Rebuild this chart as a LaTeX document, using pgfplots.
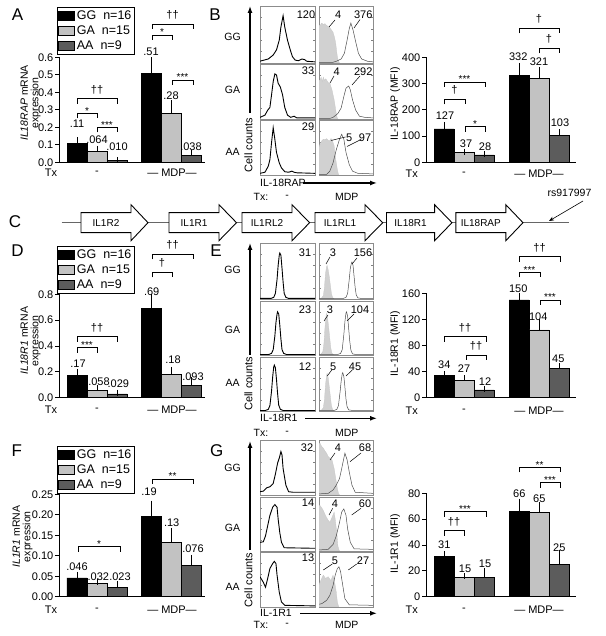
\documentclass[border=0pt]{standalone}
\usepackage{pgfplots}
\pgfplotsset{compat=1.18}
\usepackage{fontspec}
\setmainfont{Liberation Sans}
\usetikzlibrary{arrows.meta}
\newcommand{\fz}[1]{\fontsize{#1}{#1}\selectfont}
\definecolor{cGA}{gray}{0.76}
\definecolor{cAA}{gray}{0.36}
\definecolor{hfill}{gray}{0.82}

\pgfplotsset{
  bars/.style={scale only axis, anchor=south west, clip=false,
    axis x line*=bottom, axis y line*=left,
    xmin=0, ymin=0, xtick=\empty,
    ybar, bar width=20, bar shift=0pt,
    tick align=outside, major tick length=4pt,
    axis line style={line width=0.8pt},
    tick style={black, line width=0.8pt},
    /pgf/number format/assume math mode=true,
    yticklabel style={font=\fz{11}, inner sep=1.5pt},
    ylabel style={align=center, anchor=center, font=\fontsize{10.5}{10.5}\selectfont},
    legend cell align=left,
    legend image code/.code={\draw[##1, line width=0.6pt] (0pt,-4.5pt) rectangle (16pt,4.5pt);},
    legend style={anchor=north west, draw=black, line width=0.7pt, font=\fz{12.5}, inner sep=1pt, row sep=1pt},
  },
  eb/.style={error bars/y dir=plus, error bars/y explicit, error bars/error mark=-,
    error bars/error bar style={black, line width=0.7pt},
    error bars/error mark options={black, line width=0.7pt, mark size=3pt}},
  bGG/.style={fill=black, draw=black, line width=0.6pt, eb},
  bGA/.style={fill=cGA, draw=black, line width=0.6pt, eb},
  bAA/.style={fill=cAA, draw=black, line width=0.6pt, eb},
  hist/.style={scale only axis, anchor=south west, xmin=0, xmax=100, ymin=0, ymax=100,
    xtick=\empty, ytick={20,40,60,80}, yticklabels={}, tick align=inside, major tick length=2pt,
    tick style={black!50, line width=0.4pt}, axis line style={black!45, line width=0.6pt},
    no markers},
  op/.style={black, line width=0.9pt},
  om/.style={black!70, line width=0.5pt},
  gf/.style={fill=hfill, draw=black!22, line width=0.3pt},
}

% annotation helpers (pixel coordinates, y downward)
\newcommand{\brs}[4]{\draw[line width=0.7pt] (#1,#3+5) -- (#1,#3) -- (#2,#3) -- (#2,#3+5);
  \node[font=\fz{10}, anchor=base, inner sep=0pt] at ({(#1+#2)/2},#3+1) {#4};}
\newcommand{\brd}[4]{\draw[line width=0.7pt] (#1,#3+5) -- (#1,#3) -- (#2,#3) -- (#2,#3+5);
  \node[font=\fz{11}, anchor=base, inner sep=0pt] at ({(#1+#2)/2},#3-5.5) {#4};}
\newcommand{\vl}[3]{\node[font=\fz{11}] at (#1,#2) {#3};}
\newcommand{\gene}[4]{\draw[line width=0.9pt, fill=white] (#1,212.7) -- (#2,212.7) -- (#2,204.7) -- (#3,222.7) -- (#2,240.7) -- (#2,232.7) -- (#1,232.7) -- cycle;
  \node[font=\fz{10}] at ({(#1+#2)/2},222.7) {#4};}

\begin{document}
\begin{tikzpicture}
\path[use as bounding box] (0,0) rectangle (605pt,636pt);

%% ---------- A ----------
\begin{axis}[bars, at={(59pt,473.7pt)}, width=146pt, xmax=146, height=105pt, ymax=0.6,
  ytick={0,0.1,0.2,0.3,0.4,0.5,0.6},
  yticklabel style={/pgf/number format/.cd, fixed, fixed zerofill, precision=1},
  ylabel={\textit{IL18RAP} mRNA\\expression}, ylabel style={at={(axis description cs:-0.195,0.565)}},
  legend style={at={(axis description cs:-0.014,1.476)}}]
\addplot[bGG] coordinates {(18,0.11) +- (0,0.017) (92,0.51) +- (0,0.073)};
\addplot[bGA] coordinates {(38,0.064) +- (0,0.012) (112,0.28) +- (0,0.057)};
\addplot[bAA] coordinates {(58,0.010) +- (0,0.003) (132,0.038) +- (0,0.014)};
\legend{GG\ \ n=16, GA\ \ n=15, AA\ \ n=9}
\end{axis}

%% ---------- D ----------
\begin{axis}[bars, at={(59pt,238.3pt)}, width=146pt, xmax=146, height=103.4pt, ymax=0.8,
  ytick={0,0.2,0.4,0.6,0.8},
  yticklabel style={/pgf/number format/.cd, fixed, fixed zerofill, precision=1},
  ylabel={\textit{IL18R1} mRNA\\expression}, ylabel style={at={(axis description cs:-0.195,0.55)}},
  legend style={at={(axis description cs:-0.014,1.467)}}]
\addplot[bGG] coordinates {(18,0.175) +- (0,0.02) (92,0.69) +- (0,0.09)};
\addplot[bGA] coordinates {(38,0.058) +- (0,0.015) (112,0.18) +- (0,0.035)};
\addplot[bAA] coordinates {(58,0.029) +- (0,0.01) (132,0.093) +- (0,0.045)};
\legend{GG\ \ n=16, GA\ \ n=15, AA\ \ n=9}
\end{axis}

%% ---------- F ----------
\begin{axis}[bars, at={(59pt,39.3pt)}, width=146pt, xmax=146, height=102.4pt, ymax=0.25,
  ytick={0,0.05,0.1,0.15,0.2,0.25},
  yticklabel style={/pgf/number format/.cd, fixed, fixed zerofill, precision=2},
  ylabel={\textit{IL1R1} mRNA\\expression}, ylabel style={at={(axis description cs:-0.25,0.586)}},
  legend style={at={(axis description cs:-0.014,1.472)}}]
\addplot[bGG] coordinates {(18,0.046) +- (0,0.007) (92,0.197) +- (0,0.03)};
\addplot[bGA] coordinates {(38,0.032) +- (0,0.005) (112,0.132) +- (0,0.029)};
\addplot[bAA] coordinates {(58,0.023) +- (0,0.007) (132,0.077) +- (0,0.018)};
\legend{GG\ \ n=16, GA\ \ n=15, AA\ \ n=9}
\end{axis}

%% ---------- B bars ----------
\begin{axis}[bars, at={(426pt,473.7pt)}, width=150pt, xmax=150, height=105pt, ymax=400,
  ytick={0,100,200,300,400},
  ylabel={IL-18RAP (MFI)}, ylabel style={at={(axis description cs:-0.205,0.555)}}]
\addplot[bGG] coordinates {(18,127) +- (0,16) (93,332) +- (0,35)};
\addplot[bGA] coordinates {(38,37) +- (0,4) (113,321) +- (0,31)};
\addplot[bAA] coordinates {(58,28) +- (0,3) (133,103) +- (0,11)};
\end{axis}

%% ---------- E bars ----------
\begin{axis}[bars, at={(426pt,238.3pt)}, width=150pt, xmax=150, height=104.4pt, ymax=160,
  ytick={0,40,80,120,160},
  ylabel={IL-18R1 (MFI)}, ylabel style={at={(axis description cs:-0.205,0.52)}}]
\addplot[bGG] coordinates {(18,34) +- (0,2.3) (93,150) +- (0,6)};
\addplot[bGA] coordinates {(38,27) +- (0,3) (113,104) +- (0,12)};
\addplot[bAA] coordinates {(58,12) +- (0,1.5) (133,45) +- (0,3)};
\end{axis}

%% ---------- G bars ----------
\begin{axis}[bars, at={(426pt,39.3pt)}, width=150pt, xmax=150, height=103.4pt, ymax=80,
  ytick={0,20,40,60,80},
  ylabel={IL-1R1 (MFI)}, ylabel style={at={(axis description cs:-0.205,0.516)}}]
\addplot[bGG] coordinates {(18,31) +- (0,1.8) (93,66) +- (0,7.5)};
\addplot[bGA] coordinates {(38,15) +- (0,1) (113,65) +- (0,6)};
\addplot[bAA] coordinates {(58,15) +- (0,5) (133,25) +- (0,8.5)};
\end{axis}

%% ---------- B histograms ----------
\begin{axis}[hist, at={(260pt,573pt)}, width=55pt, height=57pt]
\addplot[op] coordinates {(0,3)(3,4)(15,7)(24,14)(30,23)(35,40)(38,63)(42,83)(45,63)(50,40)(55,23)(59,11)(64,5)(70,4)(76,7)(81,6)(85,3)(100,2)};
\end{axis}
\begin{axis}[hist, at={(319pt,573pt)}, width=54pt, height=57pt]
\addplot[gf] coordinates {(0,0)(0,66)(2,66)(5,70)(8,67)(11,69)(14,66)(17,64)(20,62)(23,58)(26,54)(29,44)(31,34)(33,18)(34,11)(36,3)(38,0)} \closedcycle;
\addplot[om] coordinates {(0,1)(25,1)(32,3)(41,7)(47,17)(52,40)(56,60)(59,70)(63,58)(68,37)(73,17)(79,7)(90,3)(100,2)};
\end{axis}
\begin{axis}[hist, at={(260pt,517pt)}, width=55pt, height=55pt]
\addplot[op] coordinates {(0,3)(9,7)(14,16)(18,21)(21,44)(24,68)(27,82)(30,80)(33,65)(37,58)(41,44)(45,21)(50,7)(56,3)(62,5)(67,2)(100,2)};
\end{axis}
\begin{axis}[hist, at={(319pt,517pt)}, width=54pt, height=55pt]
\addplot[gf] coordinates {(0,0)(0,70)(2,71)(4,76)(6,68)(8,76)(10,70)(12,73)(14,71)(17,66)(20,65)(24,53)(28,35)(32,10)(34,1)(35,0)} \closedcycle;
\addplot[om] coordinates {(0,1)(20,1)(26,3)(35,10)(41,20)(46,41)(50,56)(55,60)(58,53)(62,35)(68,16)(75,5)(85,3)(100,2)};
\end{axis}
\begin{axis}[hist, at={(260pt,461pt)}, width=55pt, height=55pt]
\addplot[op] coordinates {(0,3)(9,5)(15,16)(18,28)(21,59)(24,86)(27,65)(30,41)(35,22)(39,13)(45,6)(52,5)(58,7)(62,5)(67,4)(100,3)};
\end{axis}
\begin{axis}[hist, at={(319pt,461pt)}, width=54pt, height=55pt]
\addplot[gf] coordinates {(0,0)(0,50)(2,56)(5,62)(8,65)(11,64)(14,66)(17,63)(20,62)(22,66)(24,65)(28,53)(31,28)(34,10)(36,1)(37,0)} \closedcycle;
\addplot[om] coordinates {(0,1)(14,1)(20,7)(26,22)(32,46)(38,65)(42,74)(46,65)(50,41)(56,19)(62,7)(72,3)(100,2)};
\end{axis}

%% ---------- E histograms ----------
\begin{axis}[hist, at={(260pt,337pt)}, width=55pt, height=56pt]
\addplot[op] coordinates {(0,1)(20,1)(25,3)(28,10)(31,35)(33,60)(35,78)(36,82)(38,78)(40,55)(42,30)(44,10)(47,3)(52,1)(100,1)};
\end{axis}
\begin{axis}[hist, at={(319pt,337pt)}, width=54pt, height=56pt]
\addplot[gf] coordinates {(0,0)(4,1)(8,6)(10,20)(12,45)(14,58)(15,60)(17,52)(19,40)(21,25)(23,10)(25,3)(28,0)} \closedcycle;
\addplot[om] coordinates {(0,1)(45,1)(50,3)(53,10)(56,35)(58,55)(60,64)(61,66)(63,60)(65,40)(67,20)(69,7)(72,2)(78,1)(100,1)};
\end{axis}
\begin{axis}[hist, at={(260pt,281pt)}, width=55pt, height=54pt]
\addplot[op] coordinates {(0,1)(16,1)(21,3)(24,10)(27,35)(29,60)(31,76)(32,80)(34,76)(36,55)(38,30)(40,10)(43,3)(48,1)(100,1)};
\end{axis}
\begin{axis}[hist, at={(319pt,281pt)}, width=54pt, height=54pt]
\addplot[gf] coordinates {(0,0)(3,1)(7,6)(9,20)(11,50)(13,72)(14,77)(16,68)(18,50)(20,30)(22,12)(24,3)(27,0)} \closedcycle;
\addplot[om] coordinates {(0,1)(35,1)(40,3)(43,10)(46,38)(48,62)(50,78)(51,80)(53,72)(55,48)(57,25)(59,9)(62,2)(68,1)(100,1)};
\end{axis}
\begin{axis}[hist, at={(260pt,225pt)}, width=55pt, height=54pt]
\addplot[op] coordinates {(0,1)(10,1)(15,3)(18,10)(21,37)(23,63)(25,82)(26,85)(28,80)(30,58)(32,32)(34,11)(37,3)(42,1)(100,1)};
\end{axis}
\begin{axis}[hist, at={(319pt,225pt)}, width=54pt, height=54pt]
\addplot[gf] coordinates {(0,0)(4,1)(8,6)(10,20)(12,48)(14,66)(15,70)(17,62)(19,45)(21,27)(23,10)(25,3)(28,0)} \closedcycle;
\addplot[om] coordinates {(0,1)(28,1)(33,3)(36,10)(39,35)(41,55)(43,69)(44,71)(46,64)(48,44)(50,22)(52,8)(55,2)(62,1)(100,1)};
\end{axis}

%% ---------- G histograms ----------
\begin{axis}[hist, at={(260pt,141pt)}, width=55pt, height=55pt]
\addplot[op] coordinates {(0,6)(6,7)(12,13)(18,15)(24,21)(28,38)(32,58)(35,67)(38,79)(40,73)(42,48)(47,18)(52,6)(60,5)(100,5)};
\end{axis}
\begin{axis}[hist, at={(319pt,141pt)}, width=54pt, height=55pt]
\addplot[gf] coordinates {(0,0)(0,94)(2,94)(5,88)(8,85)(11,80)(14,76)(17,70)(20,67)(24,64)(28,48)(31,30)(34,12)(36,3)(38,0)} \closedcycle;
\addplot[om] coordinates {(0,2)(17,3)(26,9)(32,18)(38,30)(42,48)(46,67)(48,76)(52,64)(56,42)(61,18)(67,5)(100,3)};
\end{axis}
\begin{axis}[hist, at={(260pt,85pt)}, width=55pt, height=54pt]
\addplot[op] coordinates {(0,16)(6,17)(10,28)(14,47)(18,66)(23,81)(27,86)(31,81)(33,59)(36,34)(39,16)(44,6)(100,5)};
\end{axis}
\begin{axis}[hist, at={(319pt,85pt)}, width=54pt, height=54pt]
\addplot[gf] coordinates {(0,0)(0,84)(2,84)(5,80)(8,75)(11,68)(14,62)(17,57)(20,53)(24,62)(28,72)(30,59)(33,34)(35,9)(37,2)(38,0)} \closedcycle;
\addplot[om] coordinates {(0,2)(17,3)(26,12)(32,28)(38,53)(42,72)(46,78)(50,66)(53,41)(58,16)(65,4)(100,3)};
\end{axis}
\begin{axis}[hist, at={(260pt,29pt)}, width=55pt, height=55pt]
\addplot[op] coordinates {(0,55)(6,45)(10,36)(14,52)(18,70)(23,79)(26,83)(29,79)(31,58)(35,27)(39,9)(45,3)(100,2)};
\end{axis}
\begin{axis}[hist, at={(319pt,29pt)}, width=54pt, height=55pt]
\addplot[gf] coordinates {(0,0)(0,40)(2,45)(5,52)(8,58)(12,52)(17,55)(22,48)(26,58)(29,45)(32,27)(34,9)(36,2)(37,0)} \closedcycle;
\addplot[om] coordinates {(0,5)(5,6)(14,12)(20,21)(26,39)(30,58)(34,70)(37,73)(40,64)(44,39)(48,15)(56,4)(100,3)};
\end{axis}

%% ---------- annotations in pixel coordinates ----------
\begin{scope}[x=1pt, y=-1pt, shift={(0pt,636pt)}]
% panel letters
\foreach \l/\x/\y in {A/17.5/14.5, B/215/14.5, C/15/222, D/17.5/251, E/216/251, F/16.7/451, G/216.7/451}
  \node[font=\fz{17}] at (\x,\y) {\l};

% A
\vl{77}{123.3}{.11}\vl{97}{140}{.064}\vl{117}{146.7}{.010}
\vl{151}{51.7}{.51}\vl{171}{95.7}{.28}\vl{191}{146.7}{.038}
\brd{77}{117}{98.7}{\dag\dag}\brs{77}{97}{113.3}{*}\brs{97}{117}{127.3}{***}
\brd{152}{193}{24}{\dag\dag}\brs{152}{172}{35}{*}\brs{172}{193}{80}{***}
% D
\vl{78}{363.3}{.17}\vl{99}{381.7}{.058}\vl{118.3}{384}{.029}
\vl{151.7}{291.7}{.69}\vl{173}{360}{.18}\vl{193}{376.7}{.093}
\brd{77}{117}{336.7}{\dag\dag}\brs{77}{97}{347.7}{***}
\brd{152}{193}{254.3}{\dag\dag}\brd{152}{172}{272.3}{\dag}
% F
\vl{77}{566.7}{.046}\vl{98.3}{576.7}{.032}\vl{120}{576.7}{.023}
\vl{149}{491.7}{.19}\vl{171.7}{522.7}{.13}\vl{193}{548.3}{.076}
\brs{78}{120}{546.7}{*}\brs{152}{193}{479}{**}
% B bars
\vl{445}{116}{127}\vl{466}{144}{37}\vl{485}{146.7}{28}
\vl{518.3}{56.7}{332}\vl{539}{61.7}{321}\vl{560}{122.7}{103}
\brs{444}{485}{82}{***}\brd{444}{465}{99.3}{\dag}\brs{465}{485}{126.7}{*}
\brd{519}{559}{28.3}{\dag}\brd{539}{559}{48.3}{\dag}
% E bars
\vl{444.3}{365}{34}\vl{464}{368.3}{27}\vl{485}{381.7}{12}
\vl{518.3}{288.3}{150}\vl{538.3}{316.7}{104}\vl{558.3}{358.3}{45}
\brd{444}{486}{336.7}{\dag\dag}\brd{466}{486}{355}{\dag\dag}
\brd{519}{560}{256.7}{\dag\dag}\brs{519}{540}{272.3}{***}\brs{540}{560}{300}{***}
% G bars
\vl{444.3}{545}{31}\vl{465}{568.3}{15}\vl{485}{563.3}{15}
\vl{519.3}{493.3}{66}\vl{539.3}{498.3}{65}\vl{559.3}{547.3}{25}
\brs{444}{486}{511.7}{***}\brd{444}{464}{530.7}{\dag\dag}
\brs{519}{560}{467.3}{**}\brs{540}{560}{482.7}{***}

% Tx rows of bar charts
\foreach \y in {172.5,409.5,609.5}{
  \node[font=\fz{11}, inner sep=0pt] at (51,\y) {Tx};
  \node[font=\fz{11}, inner sep=0pt] at (97,\y) {-};
  \node[font=\fz{11}, inner sep=0pt] at (172,\y) {— MDP—};}
\foreach \y in {174,411,609.5}{
  \node[font=\fz{11}, inner sep=0pt] at (411.7,\y) {Tx};
  \node[font=\fz{11}, inner sep=0pt] at (464,\y) {-};
  \node[font=\fz{11}, inner sep=0pt] at (539,\y) {— MDP—};}

% flow panels: axes arrows, labels
\foreach \top/\bot/\cc/\lab/\ly/\ty/\ax in {6/113/145/IL-18RAP/183/196.7/303,
    243/355/383.7/IL-18R1/418.3/432.7/305,
    441/550/580/IL-1R1/613.3/625/300}{
  \draw[line width=1.3pt, -{Latex[length=7pt,width=5pt]}] (250,\bot) -- (250,\top);
  \node[font=\fz{11}, rotate=90] at (248.5,\cc) {Cell counts};
  \node[font=\fz{10.5}, anchor=west, inner sep=0pt] at (260,\ly) {\lab};
  \draw[line width=1.3pt, -{Latex[length=7pt,width=5pt]}] (\ax,\ly) -- (377,\ly);
  \node[font=\fz{10.5}] at (261,\ty) {Tx:};
  \node[font=\fz{10.5}] at (287,\ty) {-};
  \node[font=\fz{10.5}] at (346.7,\ty) {MDP};
}
\foreach \g/\yy in {GG/36.7, GA/90, AA/151.7, GG/270, GA/330, AA/383.3, GG/468.3, GA/528.3, AA/586.7}
  \node[font=\fz{10.5}] at (232.5,\yy) {\g};

% flow numbers
\foreach \x/\y/\t in {306/15/120, 308/70.7/33, 308/126.7/29, 338.3/15/4, 363.3/15/376, 336.7/71.7/4, 363.3/71.7/292, 349.3/137.3/5, 365/137.3/97,
  305/253/31, 305/310/23, 305/366.7/12, 333/253/3, 363/253/156, 330/310/3, 360/310/104, 333.3/366.7/5, 355/366.7/45,
  307/448/32, 308/503/14, 308/558/13, 338/448/4, 365/448/68, 335/504/4, 365/504/60, 335/561/5, 363/561/27}
  \node[font=\fz{11}] at (\x,\y) {\t};
\foreach \a/\b/\c/\d in {335/20/329/27, 360/19.5/354/28, 334/76/330/83, 360/76/352/85, 345.5/137/331/140.5, 361/139.5/347/146.5,
  330/257/326/264, 357/258/352/264, 328/315/324/321, 354/314/347/321, 331.7/370/327.3/376, 352.3/370/346/376,
  335/453/330/460, 361/453/350/461.7, 332.7/508.3/329/515, 361/508.3/351.7/515, 332.3/564/323.3/570, 356.7/564/348.3/570}
  \draw[line width=0.5pt] (\a,\b) -- (\c,\d);

% C gene map
\draw[line width=0.7pt, black!60] (61.5,222.7) -- (569,222.7);
\gene{81}{131}{148}{IL1R2}
\gene{169}{219}{236.5}{IL1R1}
\gene{242}{292}{309.6}{IL1RL2}
\gene{315}{365}{382.7}{IL1RL1}
\gene{386.5}{434.6}{452}{IL18R1}
\gene{455.8}{505.8}{523}{IL18RAP}
\node[font=\fz{10.5}] at (569.5,193) {rs917997};
\draw[line width=0.6pt, -{Stealth[length=5pt,width=4pt]}] (583,201) -- (549,221);
\end{scope}
\end{tikzpicture}
\end{document}
